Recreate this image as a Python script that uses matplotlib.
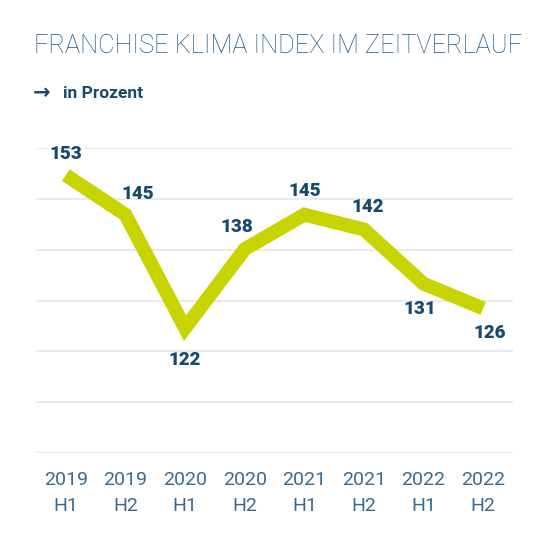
import matplotlib
matplotlib.use("Agg")
import matplotlib.pyplot as plt

years = ["2019", "2019", "2020", "2020", "2021", "2021", "2022", "2022"]
halves = ["H1", "H2", "H1", "H2", "H1", "H2", "H1", "H2"]
index_values = [153, 145, 122, 138, 145, 142, 131, 126]
# label offsets in points (dx, dy)
label_offsets = [(0, 15), (9, 15), (0, -23), (-6, 16), (0, 17), (3, 16), (-3, -18), (5, -18)]
grid_values = [96.7, 107.0, 117.3, 127.6, 137.9, 148.2, 158.5]

navy = "#17496d"
tick_col = "#3a6b8e"
line_col = "#c8d400"

fig = plt.figure(figsize=(5.5, 5.5), dpi=100)
ax = fig.add_axes([36 / 550, 1 - 453 / 550, (513 - 36) / 550, (453 - 148) / 550])

x = list(range(len(index_values)))
ax.plot(x, index_values, color=line_col, lw=10, solid_joinstyle="miter",
        solid_capstyle="butt", clip_on=False, zorder=3)

for xi, v, (dx, dy) in zip(x, index_values, label_offsets):
    ax.annotate(str(v), (xi, v), xytext=(dx, dy), textcoords="offset points",
                ha="center", va="center", fontsize=13.5, fontweight="heavy",
                family="Roboto", color=navy, zorder=4)

for g in grid_values:
    ax.axhline(g, color="#e8ecee", lw=1.5, zorder=1)

ax.set_xlim(-0.5, 7.5)
ax.set_ylim(grid_values[0], grid_values[-1])
ax.set_yticks([])
ax.set_xticks(x)
ax.set_xticklabels([f"{y}\n{h}" for y, h in zip(years, halves)],
                   fontsize=14, color=tick_col, family="Roboto",
                   fontweight="normal", linespacing=1.55)
ax.tick_params(axis="x", length=0, pad=13)
for s in ax.spines.values():
    s.set_visible(False)

fig.text(34 / 550, 1 - 46 / 550, "FRANCHISE KLIMA INDEX IM ZEITVERLAUF",
         fontsize=18.3, color="#1f5a85", family="Roboto", fontweight="light",
         va="center", ha="left")
fig.text(33 / 550, 1 - 93 / 550, "\u2192", fontsize=15, color=navy,
         family="DejaVu Sans", fontweight="bold", va="center", ha="left")
fig.text(63 / 550, 1 - 93 / 550, "in Prozent", fontsize=12.5, color=navy,
         family="Roboto", fontweight="bold", va="center", ha="left")

fig.savefig("out.png", dpi=100, facecolor="white")
